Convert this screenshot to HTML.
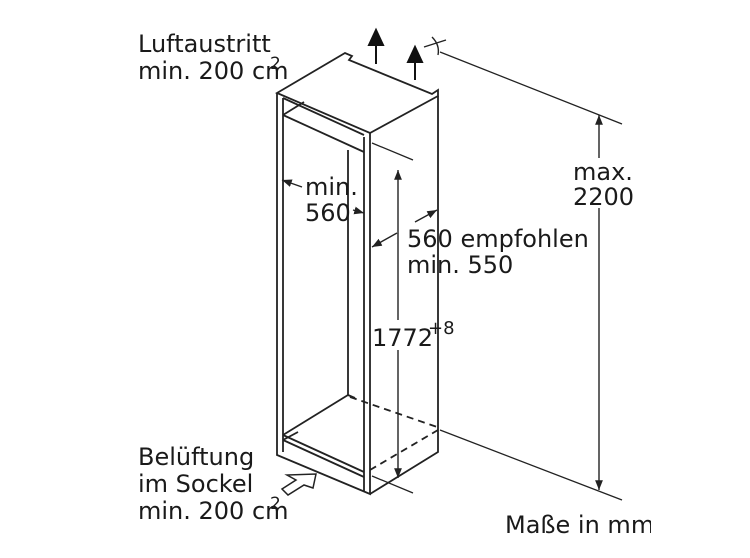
<!DOCTYPE html>
<html><head><meta charset="utf-8"><style>
html,body{margin:0;padding:0;background:#fff}
svg{display:block}
text{font-family:"DejaVu Sans","Liberation Sans",sans-serif;font-size:24px;fill:#1a1a1a}
</style></head><body>
<svg width="750" height="558" viewBox="0 0 750 558" xmlns="http://www.w3.org/2000/svg">
<defs>
<marker id="a" viewBox="0 0 10 10" refX="10" refY="5" markerWidth="7" markerHeight="7" orient="auto-start-reverse"><path d="M0,1 L10,5 L0,9 z" fill="#222"/></marker>
</defs>
<g stroke="#222" stroke-width="1.8" fill="none">
<path d="M277,93 L345,53 L352,56 L349,60 L432,94 L438,90 L438,96 L370,133 Z" fill="#fff"/>
<path d="M277,93 L277,455 L370,494 L370,133"/>
<path d="M283,98 L283,452"/>
<path d="M364,137 L364,491"/>
<path d="M283,98 L364,135"/>
<path d="M283,115 L364,152"/>
<path d="M283,435 L364,472"/>
<path d="M283,440 L364,477"/>
<path d="M283,115 L304,102"/>
<path d="M283,440 L298,432"/>
<path d="M438,96 L438,452 L370,494"/>
<path d="M348,150 L348,395"/>
<path d="M283,435 L348,395"/>
<path d="M348,395 L355,398"/>
<path d="M440,52 L622,124" stroke-width="1.3"/>
<path d="M440,430 L622,500" stroke-width="1.3"/>
<path d="M372,143 L413,160" stroke-width="1.3"/>
<path d="M372,476 L413,493" stroke-width="1.3"/>
</g>
<g stroke="#222" stroke-width="1.8" fill="none" stroke-dasharray="7,5">
<path d="M350,397 L440,428"/>
<path d="M370,470 L438,430"/>
</g>
<g stroke="#222" stroke-width="1.4" fill="none">
<path d="M599,115 L599,158" marker-start="url(#a)"/>
<path d="M599,208 L599,490" marker-end="url(#a)"/>
<path d="M398,170 L398,320" marker-start="url(#a)"/>
<path d="M398,350 L398,478" marker-end="url(#a)"/>
<path d="M415,222 L437,210" marker-end="url(#a)"/>
<path d="M397,233 L372,247" marker-end="url(#a)"/>
<path d="M302,187 L282,180" marker-end="url(#a)"/>
<path d="M353,210 L364,213" marker-end="url(#a)"/>
<path d="M432,37 Q440,45 438,55 M424,47 L446,40"/>
</g>
<g fill="#111" stroke="#111" stroke-width="2">
<path d="M376,64 L376,40"/><path d="M369,45 L376,30 L383,45 Z"/>
<path d="M415,80 L415,57"/><path d="M408,62 L415,47 L422,62 Z"/>
</g>
<path d="M316,474 L313,488 L304,485 L288,495 L282,489 L296,480 L287,475 Z" fill="#fff" stroke="#222" stroke-width="1.5"/>
<text x="138" y="52">Luftaustritt</text>
<text x="138" y="79">min. 200 cm</text>
<text x="270" y="69" style="font-size:17px">2</text>
<text x="305" y="195">min.</text>
<text x="305" y="221">560</text>
<text x="407" y="247">560 empfohlen</text>
<text x="407" y="273">min. 550</text>
<text x="372" y="346">1772</text>
<text x="428" y="334" style="font-size:18px">+8</text>
<text x="573" y="180">max.</text>
<text x="573" y="205">2200</text>
<text x="138" y="465">Belüftung</text>
<text x="138" y="492">im Sockel</text>
<text x="138" y="519">min. 200 cm</text>
<text x="270" y="509" style="font-size:17px">2</text>
<text x="505" y="533">Maße in mm</text>
<rect x="651" y="505" width="60" height="40" fill="#fff"/>
</svg>
</body></html>
